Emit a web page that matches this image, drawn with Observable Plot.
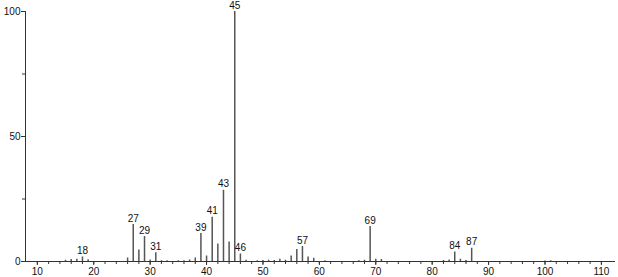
<!DOCTYPE html>
<html>
<head>
<meta charset="utf-8">
<script src="https://cdn.jsdelivr.net/npm/d3@7"></script>
<script src="https://cdn.jsdelivr.net/npm/@observablehq/plot@0.6"></script>
<style>
html,body{margin:0;padding:0;background:#fff;}
#chart svg{display:block;}
</style>
</head>
<body>
<div id="chart"></div>
<script>
// m/z values and relative intensities
const mz = [15,16,17,18,19,26,27,28,29,30,31,32,33,35,36,37,38,39,40,41,42,43,44,45,46,47,49,50,51,52,53,54,55,56,57,58,59,61,67,68,69,70,71,82,83,84,85,86,87,100,101];
const intensity = [0.5,0.8,0.9,1.8,0.7,1.4,14.8,4.6,10.0,0.6,3.5,0.3,0.3,0.3,0.3,0.6,1.4,11.2,2.2,17.7,7.0,28.5,7.8,100,3.0,0.5,0.3,0.4,0.5,0.4,0.9,0.5,2.2,4.8,6.0,1.8,1.3,0.3,0.3,0.5,14.0,0.9,0.8,0.4,0.6,3.8,0.9,0.4,5.3,0.2,0.3];
const labeledPeaks = [18,27,29,31,39,41,43,45,46,57,69,84,87];
const xMajorTicks = [10,20,30,40,50,60,70,80,90,100,110];
const xMinorTicks = d3.range(10, 112, 2);
const yMajorTicks = [0,50,100];
const yMinorTicks = [25,75];
const xDomain = [7.9, 112.5];

const data = mz.map((m,i) => ({mz:m, v:intensity[i]}));
const labels = data.filter(d => labeledPeaks.includes(d.mz));

const chart = Plot.plot({
  width: 618,
  height: 277,
  marginLeft: 25,
  marginRight: 3,
  marginTop: 11,
  marginBottom: 16,
  style: {fontFamily: "Liberation Sans, Arial, sans-serif", fontSize: "10px", background: "#fff"},
  x: {domain: xDomain, label: null},
  y: {domain: [0, 100], label: null},
  marks: [
    Plot.ruleX(data, {x: "mz", y1: 0, y2: "v", stroke: "#555", strokeWidth: 1.5}),
    Plot.text(labels, {x: "mz", y: "v", text: d => String(d.mz), dy: -6, fill: "#111", fontSize: 10}),
    Plot.ruleY([0], {stroke: "#333", strokeWidth: 1}),
    Plot.ruleX([xDomain[0]], {stroke: "#333", strokeWidth: 1}),
    Plot.axisX({ticks: xMinorTicks, tickFormat: () => "", tickSize: 3, stroke: "#333", label: null}),
    Plot.axisX({ticks: xMajorTicks, tickSize: 4, tickPadding: 2, stroke: "#333", fill: "#111", label: null}),
    Plot.axisY({ticks: yMinorTicks, tickFormat: () => "", tickSize: 3, stroke: "#333", label: null}),
    Plot.axisY({ticks: yMajorTicks, tickSize: 4, tickPadding: 1, stroke: "#333", fill: "#111", label: null})
  ]
});
document.getElementById("chart").appendChild(chart);
</script>
</body>
</html>
